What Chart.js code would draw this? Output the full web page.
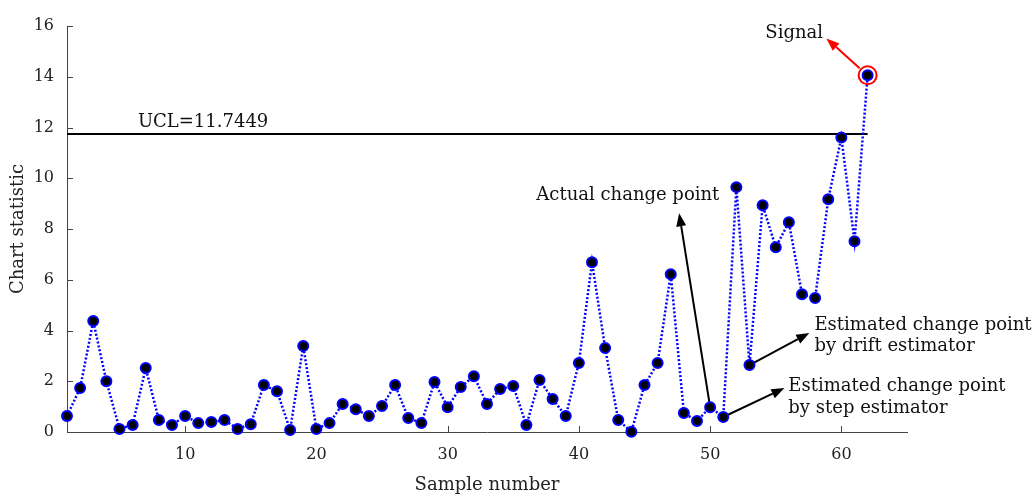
<!DOCTYPE html>
<html lang="en">
<head>
<meta charset="UTF-8">
<title>Chart statistic</title>
<script src="https://cdn.jsdelivr.net/npm/chart.js"></script>
<style>
  html, body { margin: 0; padding: 0; background: #fff; }
  .chart-container { position: relative; width: 1033px; height: 496px; }
</style>
</head>
<body>
<div class="chart-container"><canvas id="statChart"></canvas></div>
<script>
// data
const sampleNumbers = [
  1, 2, 3, 4, 5, 6, 7, 8, 9, 10,
  11, 12, 13, 14, 15, 16, 17, 18, 19, 20,
  21, 22, 23, 24, 25, 26, 27, 28, 29, 30,
  31, 32, 33, 34, 35, 36, 37, 38, 39, 40,
  41, 42, 43, 44, 45, 46, 47, 48, 49, 50,
  51, 52, 53, 54, 55, 56, 57, 58, 59, 60,
  61, 62
];
const chartStatistic = [
  0.63, 1.73, 4.37, 2.00, 0.12, 0.28, 2.52, 0.47, 0.28, 0.63,
  0.35, 0.39, 0.47, 0.12, 0.31, 1.85, 1.61, 0.08, 3.39, 0.12,
  0.35, 1.10, 0.90, 0.63, 1.02, 1.85, 0.55, 0.35, 1.97, 0.98,
  1.77, 2.20, 1.10, 1.69, 1.81, 0.28, 2.05, 1.30, 0.63, 2.72,
  6.69, 3.31, 0.47, 0.01, 1.85, 2.72, 6.22, 0.75, 0.43, 0.98,
  0.59, 9.65, 2.64, 8.94, 7.28, 8.27, 5.43, 5.28, 9.17, 11.61,
  7.52, 14.06
];
const xTickValues = [10, 20, 30, 40, 50, 60];
const yTickValues = [0, 2, 4, 6, 8, 10, 12, 14, 16];
const ucl = 11.7449;
const uclLabel = 'UCL=11.7449';

// which samples the annotations point at
const signalSample = 62;
const actualChangeSample = 50;
const stepEstimateSample = 51;
const driftEstimateSample = 53;

const serif = '"DejaVu Serif", "Liberation Serif", serif';

function drawArrow(ctx, x1, y1, x2, y2, color) {
  const a = Math.atan2(y2 - y1, x2 - x1);
  const L = 13, W = 5;
  const bx = x2 - L * Math.cos(a), by = y2 - L * Math.sin(a);
  ctx.save();
  ctx.strokeStyle = color;
  ctx.fillStyle = color;
  ctx.lineWidth = 2;
  ctx.beginPath();
  ctx.moveTo(x1, y1);
  ctx.lineTo(bx, by);
  ctx.stroke();
  ctx.beginPath();
  ctx.moveTo(x2, y2);
  ctx.lineTo(bx - W * Math.sin(a), by + W * Math.cos(a));
  ctx.lineTo(bx + W * Math.sin(a), by - W * Math.cos(a));
  ctx.closePath();
  ctx.fill();
  ctx.restore();
}

function valueAt(sample) {
  return chartStatistic[sampleNumbers.indexOf(sample)];
}

// inward tick marks, UCL line, arrows and labels
const annotations = {
  id: 'annotations',
  beforeDatasetsDraw(chart) {
    const { ctx, scales: { x, y }, chartArea } = chart;
    ctx.save();
    // inside ticks
    ctx.strokeStyle = '#444';
    ctx.lineWidth = 1;
    yTickValues.forEach(v => {
      const py = Math.round(y.getPixelForValue(v)) + 0.5;
      ctx.beginPath();
      ctx.moveTo(chartArea.left, py);
      ctx.lineTo(chartArea.left + 6, py);
      ctx.stroke();
    });
    xTickValues.forEach(v => {
      const px = Math.round(x.getPixelForValue(v)) + 0.5;
      ctx.beginPath();
      ctx.moveTo(px, chartArea.bottom);
      ctx.lineTo(px, chartArea.bottom - 6);
      ctx.stroke();
    });

    // UCL
    const uy = y.getPixelForValue(ucl);
    ctx.strokeStyle = '#000';
    ctx.lineWidth = 2;
    ctx.beginPath();
    ctx.moveTo(chartArea.left, uy);
    ctx.lineTo(x.getPixelForValue(signalSample), uy);
    ctx.stroke();
    ctx.fillStyle = '#111';
    ctx.font = '18px ' + serif;
    ctx.textBaseline = 'alphabetic';
    ctx.textAlign = 'left';
    ctx.fillText(uclLabel, x.getPixelForValue(6.4), uy - 7);

    // arrows from the marked samples
    drawArrow(ctx,
      x.getPixelForValue(actualChangeSample), y.getPixelForValue(valueAt(actualChangeSample)),
      x.getPixelForValue(47.64), y.getPixelForValue(8.62), '#000');
    drawArrow(ctx,
      x.getPixelForValue(stepEstimateSample), y.getPixelForValue(valueAt(stepEstimateSample)),
      x.getPixelForValue(55.66), y.getPixelForValue(1.73), '#000');
    drawArrow(ctx,
      x.getPixelForValue(driftEstimateSample), y.getPixelForValue(valueAt(driftEstimateSample)),
      x.getPixelForValue(57.56), y.getPixelForValue(3.9), '#000');

    ctx.textBaseline = 'middle';
    ctx.textAlign = 'right';
    ctx.fillText('Actual change point', x.getPixelForValue(50.7), y.getPixelForValue(9.33));
    ctx.textAlign = 'left';
    ctx.fillText('Estimated change point', x.getPixelForValue(55.96), y.getPixelForValue(1.81));
    ctx.fillText('by step estimator', x.getPixelForValue(55.96), y.getPixelForValue(0.94));
    ctx.fillText('Estimated change point', x.getPixelForValue(57.95), y.getPixelForValue(4.21));
    ctx.fillText('by drift estimator', x.getPixelForValue(57.95), y.getPixelForValue(3.39));
    ctx.restore();
  },
  afterDatasetsDraw(chart) {
    const { ctx, scales: { x, y } } = chart;
    const sx = x.getPixelForValue(signalSample);
    const sy = y.getPixelForValue(valueAt(signalSample));
    ctx.save();
    ctx.strokeStyle = '#ff0000';
    ctx.lineWidth = 2;
    ctx.beginPath();
    ctx.arc(sx, sy, 9, 0, Math.PI * 2);
    ctx.stroke();
    drawArrow(ctx, sx - 8, sy - 7, x.getPixelForValue(58.86), y.getPixelForValue(15.51), '#ff0000');
    ctx.fillStyle = '#111';
    ctx.font = '18px ' + serif;
    ctx.textAlign = 'right';
    ctx.textBaseline = 'middle';
    ctx.fillText('Signal', x.getPixelForValue(58.6), y.getPixelForValue(15.7));
    ctx.restore();
  }
};

const ctx = document.getElementById('statChart').getContext('2d');
new Chart(ctx, {
  type: 'line',
  data: {
    datasets: [{
      label: 'Chart statistic',
      data: sampleNumbers.map((n, i) => ({ x: n, y: chartStatistic[i] })),
      borderColor: '#0000ff',
      borderWidth: 2.5,
      borderDash: [2, 2],
      pointRadius: 5,
      pointBorderWidth: 2,
      pointBackgroundColor: '#000',
      pointBorderColor: '#0000ff',
      tension: 0,
      clip: false
    }]
  },
  options: {
    responsive: true,
    maintainAspectRatio: false,
    animation: false,
    events: [],
    layout: { padding: { top: 26, right: 126, left: 0, bottom: 0 } },
    plugins: {
      legend: { display: false },
      tooltip: { enabled: false }
    },
    scales: {
      x: {
        type: 'linear',
        min: 1,
        max: 65,
        grid: { display: false },
        border: { display: true, color: '#444', width: 1 },
        afterBuildTicks: s => { s.ticks = xTickValues.map(v => ({ value: v })); },
        afterFit: s => { s.height = 64; },
        ticks: {
          color: '#222',
          padding: 5,
          font: { family: serif, size: 16 }
        },
        title: {
          display: true,
          text: 'Sample number',
          color: '#222',
          padding: { top: 0, bottom: 0 },
          font: { family: serif, size: 18 }
        }
      },
      y: {
        min: 0,
        max: 16,
        grid: { display: false },
        border: { display: true, color: '#444', width: 1 },
        afterBuildTicks: s => { s.ticks = yTickValues.map(v => ({ value: v })); },
        afterFit: s => { s.width = 67; },
        ticks: {
          color: '#222',
          padding: 5,
          font: { family: serif, size: 16 }
        },
        title: {
          display: true,
          text: 'Chart statistic',
          color: '#222',
          padding: { top: 8, bottom: 0 },
          font: { family: serif, size: 18 }
        }
      }
    }
  },
  plugins: [annotations]
});
</script>
</body>
</html>
